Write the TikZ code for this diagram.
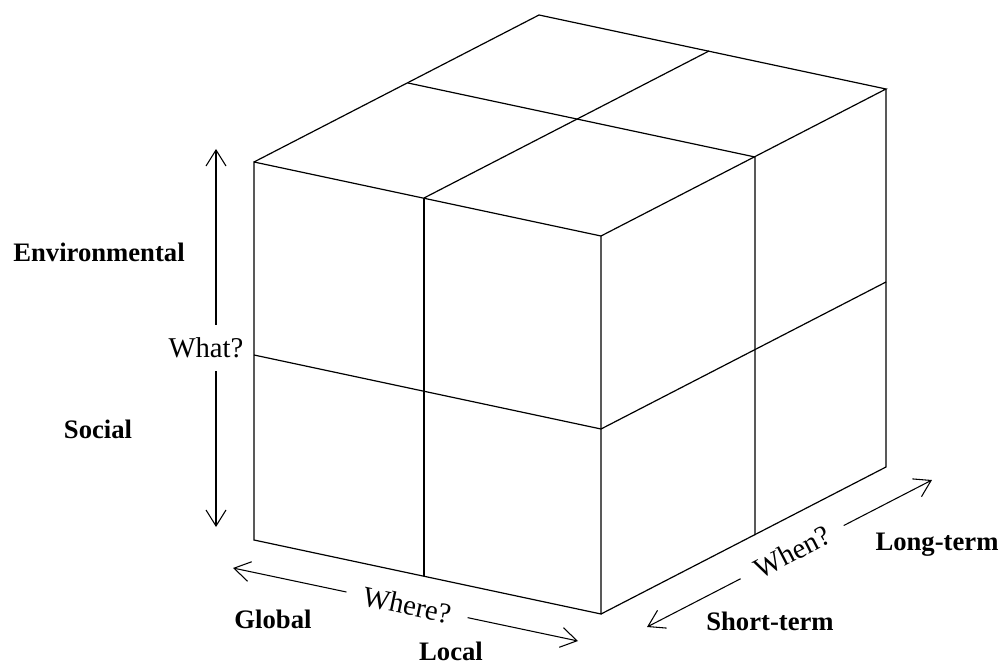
\documentclass[tikz,border=0pt]{standalone}
\usepackage{fontspec}
\setmainfont{Liberation Serif}
\usetikzlibrary{arrows.meta}
\begin{document}
\begin{tikzpicture}[x=0.75pt,y=-0.75pt,
  edge/.style={line width=0.9pt, line join=miter},
  axis/.style={line width=0.8pt, {Straight Barb[length=12pt,width=15pt]}-{Straight Barb[length=12pt,width=15pt]}},
  qlabel/.style={fill=white, inner xsep=13pt, inner ysep=1pt, font=\fontsize{21.5}{24}\selectfont},
  cat/.style={font=\fontsize{20}{24}\selectfont\bfseries, inner sep=0pt, anchor=base}]
\useasboundingbox (0,0) rectangle (1002,666);
% cube corners
\coordinate (FTL) at (254,162);
\coordinate (FTR) at (601,236);
\coordinate (FBR) at (601,614);
\coordinate (FBL) at (254,540);
\coordinate (BTL) at (539,15);
\coordinate (BTR) at (886,89);
\coordinate (BBR) at (886,467);
% grid points
\coordinate (FTM) at (424,198);
\coordinate (FBM) at (424,576);
\coordinate (FLM) at (254,355);
\coordinate (FRM) at (601,429);
\coordinate (LTM) at (408,83);
\coordinate (RTM) at (755,157);
\coordinate (BTM) at (709,51);
\coordinate (RBM) at (755,535);
\coordinate (BRM) at (886,282);
% axis ends
\coordinate (whatTop) at (216,149);
\coordinate (whatBot) at (216,527);
\coordinate (whereL) at (233,568);
\coordinate (whereR) at (578,641);
\coordinate (whenL) at (647,627);
\coordinate (whenR) at (932,480);
% axes
\draw[axis] (whatTop) -- (whatBot);
\draw[axis] (whereL) -- (whereR);
\draw[axis] (whenL) -- (whenR);
\node[qlabel, inner xsep=4pt, inner ysep=10pt] (what) at (206,348) {What?};
\node[qlabel, rotate=-12] (where) at (407,605) {Where?};
\node[qlabel, rotate=27.3] (when) at (792,552) {When?};
% category labels
\node[cat] (env) at (99,262) {Environmental};
\node[cat] (soc) at (98,438) {Social};
\node[cat] (glob) at (273,628) {Global};
\node[cat] (loc) at (451,660) {Local};
\node[cat] (long) at (937,550) {Long-term};
\node[cat] (short) at (770,630) {Short-term};
% cube
\draw[edge] (FTL) -- (FTR) -- (FBR) -- (FBL) -- cycle;
\draw[edge] (FTL) -- (BTL) -- (BTR) -- (FTR);
\draw[edge] (BTR) -- (BBR) -- (FBR);
\draw[edge] (FTM) -- (FBM);
\draw[edge] (FLM) -- (FRM) -- (BRM);
\draw[edge] (FTM) -- (BTM);
\draw[edge] (LTM) -- (RTM) -- (RBM);
\end{tikzpicture}
\end{document}
